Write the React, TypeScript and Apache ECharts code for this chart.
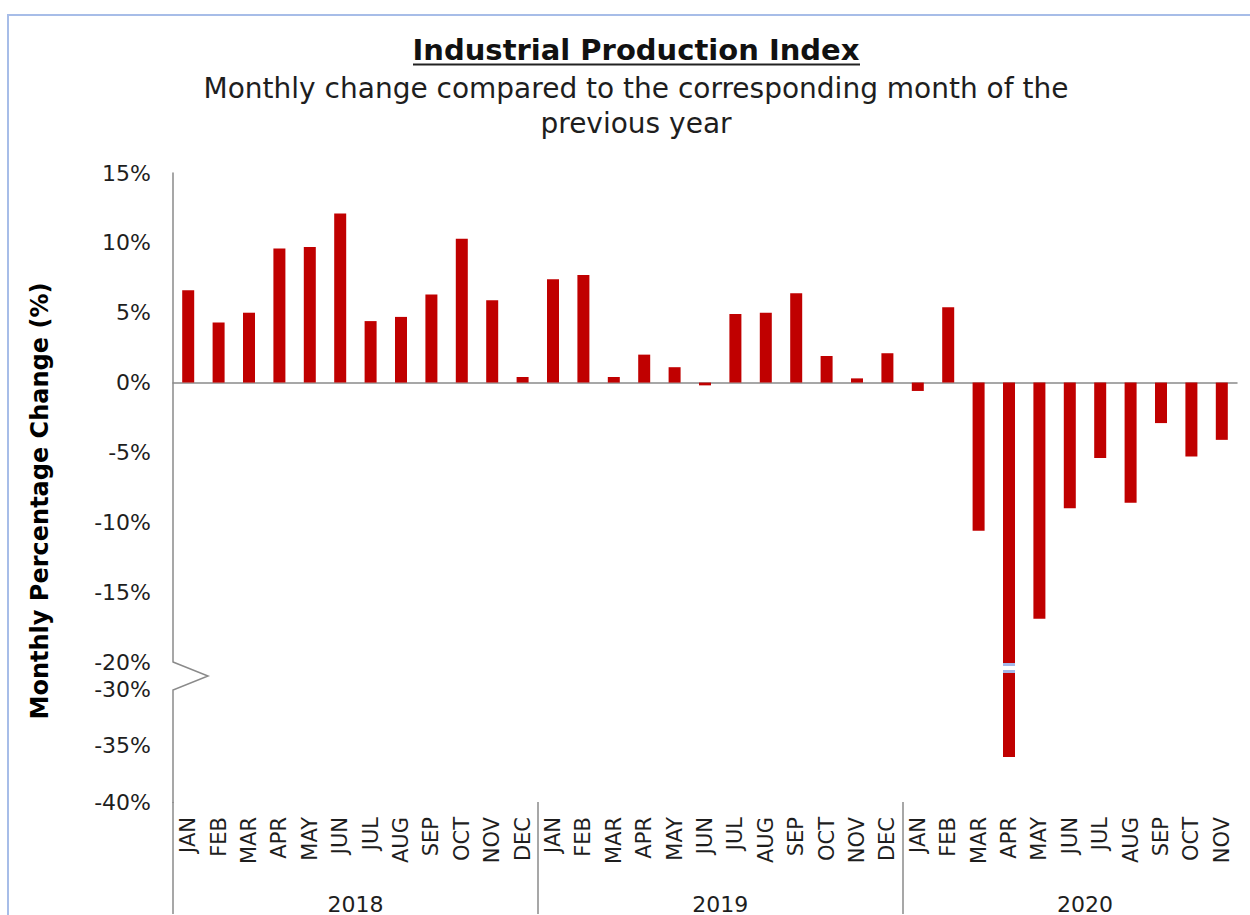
import React, { useEffect, useRef } from "react";
import * as echarts from "echarts";

const TITLE = "Industrial Production Index";
const SUBTITLE_LINES = ["Monthly change compared to the corresponding month of the", "previous year"];
const Y_AXIS_NAME = "Monthly Percentage Change (%)";

const YEARS = ["2018", "2019", "2020"];
const MONTHS_2018 = ["JAN", "FEB", "MAR", "APR", "MAY", "JUN", "JUL", "AUG", "SEP", "OCT", "NOV", "DEC"];
const MONTHS_2019 = ["JAN", "FEB", "MAR", "APR", "MAY", "JUN", "JUL", "AUG", "SEP", "OCT", "NOV", "DEC"];
const MONTHS_2020 = ["JAN", "FEB", "MAR", "APR", "MAY", "JUN", "JUL", "AUG", "SEP", "OCT", "NOV"];

const VALUES_2018 = [6.6, 4.3, 5.0, 9.6, 9.7, 12.1, 4.4, 4.7, 6.3, 10.3, 5.9, 0.4];
const VALUES_2019 = [7.4, 7.7, 0.4, 2.0, 1.1, -0.2, 4.9, 5.0, 6.4, 1.9, 0.3, 2.1];
const VALUES_2020 = [-0.6, 5.4, -10.6, -36.0, -16.9, -9.0, -5.4, -8.6, -2.9, -5.3, -4.1];

// upper (main) axis segment and lower segment after the break
const UPPER_MIN = -20;
const UPPER_MAX = 15;
const LOWER_MIN = -40;
const LOWER_TOP_TICK = -30;
const TICK_STEP = 5;

// layout
const W = 1250;
const H = 915;
const PLOT_LEFT = 173;
const PLOT_RIGHT = 1237;
const PLOT_TOP = 173;
const BREAK_TOP = 662;
const BREAK_BOTTOM = 690;
const PLOT_BOTTOM = 803;

const FONT = 'Verdana, "DejaVu Sans", sans-serif';
const TEXT = "#1e1e1e";
const AXIS = "#8a8a8a";
const BAR = "#C00000";
const BREAK_BLUE = "#A3B8E8";

export default function App() {
  const ref = useRef<HTMLDivElement>(null);

  useEffect(() => {
    const chart = echarts.init(ref.current!, null, { renderer: "svg" });

    const groups = [MONTHS_2018, MONTHS_2019, MONTHS_2020];
    const categories: string[] = [];
    groups.forEach((months, gi) => months.forEach((m) => categories.push(`${YEARS[gi]}-${m}`)));
    const values = [...VALUES_2018, ...VALUES_2019, ...VALUES_2020];

    const groupStarts: number[] = [];
    let acc = 0;
    groups.forEach((g) => {
      groupStarts.push(acc);
      acc += g.length;
    });
    const labelPos = groupStarts.map((s) => s + 6);

    const lowerPxPerUnit = (PLOT_BOTTOM - BREAK_BOTTOM) / (LOWER_TOP_TICK - LOWER_MIN);
    const lowerMax = LOWER_TOP_TICK + (BREAK_BOTTOM - BREAK_TOP) / lowerPxPerUnit;

    const baseGraphics: any[] = [
      {
        type: "rect",
        shape: { x: 8, y: 15, width: W + 20, height: H + 20 },
        style: { fill: "none", stroke: "#A7BDE8", lineWidth: 2 },
        silent: true,
      },
      {
        type: "text",
        x: 636,
        y: 50,
        style: { text: TITLE, font: `bold 29px ${FONT}`, fill: "#111", textAlign: "center", textVerticalAlign: "middle" },
      },
      {
        type: "line",
        shape: { x1: 413, y1: 64.5, x2: 860, y2: 64.5 },
        style: { stroke: "#222", lineWidth: 1.8 },
      },
      {
        type: "text",
        x: 636,
        y: 88,
        style: { text: SUBTITLE_LINES[0], font: `28px ${FONT}`, fill: TEXT, textAlign: "center", textVerticalAlign: "middle" },
      },
      {
        type: "text",
        x: 636,
        y: 123,
        style: { text: SUBTITLE_LINES[1], font: `28px ${FONT}`, fill: TEXT, textAlign: "center", textVerticalAlign: "middle" },
      },
      {
        type: "text",
        x: 40,
        y: 501,
        rotation: Math.PI / 2,
        style: { text: Y_AXIS_NAME, font: `bold 24px ${FONT}`, fill: "#000", textAlign: "center", textVerticalAlign: "middle" },
      },
      {
        type: "polyline",
        shape: {
          points: [
            [PLOT_LEFT, BREAK_TOP],
            [PLOT_LEFT + 35, (BREAK_TOP + BREAK_BOTTOM) / 2],
            [PLOT_LEFT, BREAK_BOTTOM],
            [PLOT_LEFT, PLOT_BOTTOM],
          ],
        },
        style: { stroke: AXIS, lineWidth: 1.5, fill: "none" },
      },
    ];

    const option: any = {
      animation: false,
      backgroundColor: "#fff",
      textStyle: { fontFamily: FONT },
      grid: [
        { left: PLOT_LEFT, right: W - PLOT_RIGHT, top: PLOT_TOP, height: BREAK_TOP - PLOT_TOP, containLabel: false },
        { left: PLOT_LEFT, right: W - PLOT_RIGHT, top: BREAK_TOP, height: PLOT_BOTTOM - BREAK_TOP, containLabel: false },
      ],
      xAxis: [
        {
          gridIndex: 0,
          type: "category",
          data: categories,
          axisLine: { show: true, onZero: true, lineStyle: { color: AXIS, width: 1.5 } },
          axisTick: { show: false },
          axisLabel: { show: false },
          splitLine: { show: false },
        },
        {
          gridIndex: 1,
          type: "category",
          data: categories,
          position: "bottom",
          axisLine: { show: false },
          axisTick: { show: false },
          splitLine: { show: false },
          axisLabel: {
            interval: 0,
            rotate: 90,
            margin: 15,
            fontSize: 21,
            color: TEXT,
            fontFamily: FONT,
            formatter: (v: string) => v.split("-")[1],
          },
        },
        {
          gridIndex: 1,
          type: "value",
          min: 0,
          max: categories.length,
          position: "bottom",
          axisLine: { show: false },
          splitLine: { show: false },
          axisTick: {
            show: true,
            customValues: groupStarts,
            length: H - PLOT_BOTTOM,
            lineStyle: { color: AXIS, width: 1.5 },
          },
          axisLabel: {
            customValues: labelPos,
            margin: 91,
            fontSize: 22,
            color: TEXT,
            fontFamily: FONT,
            formatter: (v: number) => {
              const i = labelPos.indexOf(Math.round(v));
              return i >= 0 ? YEARS[i] : "";
            },
          },
        },
      ],
      yAxis: [
        {
          gridIndex: 0,
          type: "value",
          min: UPPER_MIN,
          max: UPPER_MAX,
          interval: TICK_STEP,
          axisLine: { show: true, onZero: false, lineStyle: { color: AXIS, width: 1.5 } },
          axisTick: { show: false },
          splitLine: { show: false },
          axisLabel: { formatter: "{value}%", fontSize: 22, margin: 22, color: TEXT, fontFamily: FONT },
        },
        {
          gridIndex: 1,
          type: "value",
          min: LOWER_MIN,
          max: lowerMax,
          interval: TICK_STEP,
          axisLine: { show: false },
          axisTick: { show: false },
          splitLine: { show: false },
          axisLabel: {
            fontSize: 22,
            margin: 22,
            color: TEXT,
            fontFamily: FONT,
            showMaxLabel: false,
            formatter: (v: number) => (v <= LOWER_TOP_TICK + 0.001 ? `${v}%` : ""),
          },
        },
      ],
      series: [
        {
          type: "bar",
          xAxisIndex: 0,
          yAxisIndex: 0,
          data: values,
          barWidth: 12,
          clip: true,
          itemStyle: { color: BAR },
        },
        {
          type: "bar",
          xAxisIndex: 1,
          yAxisIndex: 1,
          data: values.map((v) => (v < UPPER_MIN ? v : "-")),
          barWidth: 12,
          clip: true,
          itemStyle: { color: BAR },
        },
      ],
      graphic: baseGraphics,
    };

    chart.setOption(option);

    // break markers on bars crossing the axis break
    const markers: any[] = [];
    values.forEach((v, i) => {
      if (v < UPPER_MIN) {
        const p = chart.convertToPixel({ gridIndex: 1 }, [i, LOWER_TOP_TICK]) as number[];
        const cx = p[0];
        markers.push(
          { type: "rect", z: 100, shape: { x: cx - 6, y: BREAK_TOP + 1, width: 12, height: 10 }, style: { fill: "#fff" } },
          { type: "line", z: 101, shape: { x1: cx - 6, y1: BREAK_TOP + 2.5, x2: cx + 6, y2: BREAK_TOP + 2.5 }, style: { stroke: BREAK_BLUE, lineWidth: 3 } },
          { type: "line", z: 101, shape: { x1: cx - 6, y1: BREAK_TOP + 9.5, x2: cx + 6, y2: BREAK_TOP + 9.5 }, style: { stroke: BREAK_BLUE, lineWidth: 3 } }
        );
      }
    });
    chart.setOption({ graphic: [...baseGraphics, ...markers] });

    return () => chart.dispose();
  }, []);

  return <div ref={ref} style={{ position: "fixed", left: 0, top: 0, width: W, height: H, background: "#fff" }} />;
}
